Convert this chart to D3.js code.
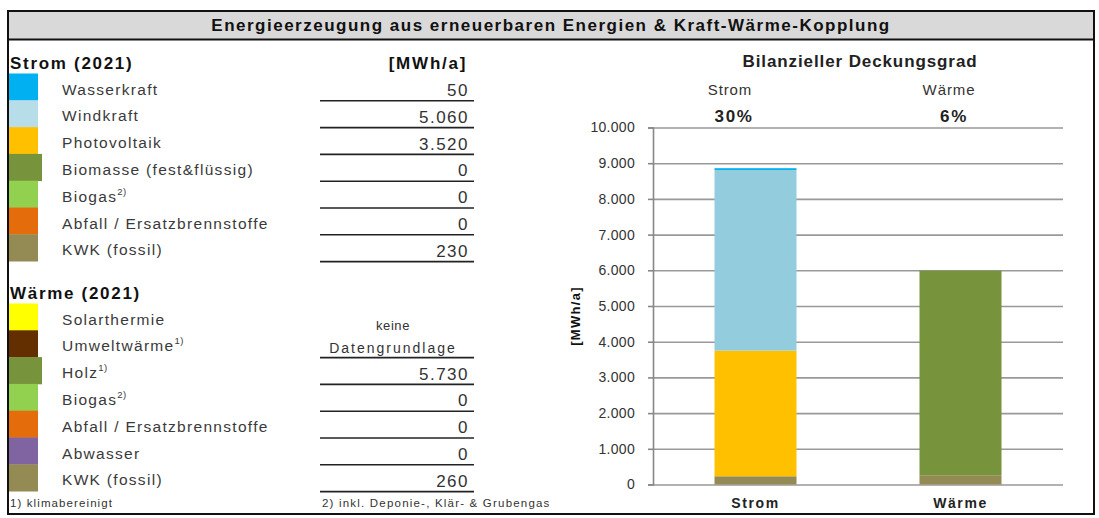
<!DOCTYPE html>
<html>
<head>
<meta charset="utf-8">
<script src="https://cdn.jsdelivr.net/npm/d3@7"></script>
<style>
  body { margin: 0; background: #fff; }
  text { font-family: "Liberation Sans", Arial, sans-serif; }
</style>
</head>
<body>
<div id="chart"></div>
<script>
// Strom (2021)
const stromLabels = ['Wasserkraft', 'Windkraft', 'Photovoltaik', 'Biomasse (fest&flüssig)', 'Biogas', 'Abfall / Ersatzbrennstoffe', 'KWK (fossil)']
const stromNotes = ['', '', '', '', '2)', '', '']
const stromValues = [50, 5060, 3520, 0, 0, 0, 230]
const stromColors = ['#00b0f0', '#93cddd', '#ffc000', '#77933c', '#92d050', '#e46c0a', '#948a54']

// Wärme (2021)
const waermeLabels = ['Solarthermie', 'Umweltwärme', 'Holz', 'Biogas', 'Abfall / Ersatzbrennstoffe', 'Abwasser', 'KWK (fossil)']
const waermeNotes = ['', '1)', '1)', '2)', '', '', '']
const waermeValues = [null, null, 5730, 0, 0, 0, 260]
const waermeColors = ['#ffff00', '#632f00', '#77933c', '#92d050', '#e46c0a', '#8064a2', '#948a54']

const categories = ['Strom', 'Wärme']
const coverage = ['30%', '6%']
const yTicks = [0, 1000, 2000, 3000, 4000, 5000, 6000, 7000, 8000, 9000, 10000]

// legend swatch is drawn lighter than the bar for Windkraft
const swatchOverride = {Windkraft: '#b7dee8'}

const W = 1099
const H = 518
const de = d3.formatLocale({decimal: ',', thousands: '.', grouping: [3], currency: ['', '€']})
const fmt = de.format(',d')

const svg = d3.select('#chart').append('svg')
  .attr('width', W)
  .attr('height', H)

// outer frame + title bar
svg.append('rect')
  .attr('x', 8).attr('y', 11).attr('width', 1086).attr('height', 503)
  .attr('fill', '#fff').attr('stroke', '#111').attr('stroke-width', 2)
svg.append('rect')
  .attr('x', 8).attr('y', 11).attr('width', 1086).attr('height', 28.5)
  .attr('fill', '#d9d9d9').attr('stroke', '#111').attr('stroke-width', 2)
svg.append('text')
  .attr('x', 551).attr('y', 31)
  .attr('text-anchor', 'middle')
  .attr('font-size', 17).attr('font-weight', 'bold').attr('fill', '#111')
  .attr('letter-spacing', 1.5)
  .text('Energieerzeugung aus erneuerbaren Energien & Kraft-Wärme-Kopplung')

// ---------- left table ----------
const rowH = 26.8
const valRight = 469
const lineX0 = 320
const lineX1 = 474

function drawSection(title, top, labels, notes, values, colors, withUnit) {
  svg.append('text')
    .attr('x', 10).attr('y', top - 5)
    .attr('font-size', 17).attr('font-weight', 'bold').attr('fill', '#111')
    .attr('letter-spacing', 1.7)
    .text(title)
  if (withUnit) {
    svg.append('text')
      .attr('x', 428).attr('y', top - 5)
      .attr('text-anchor', 'middle')
      .attr('font-size', 17).attr('font-weight', 'bold').attr('fill', '#111')
      .attr('letter-spacing', 1.8)
      .text('[MWh/a]')
  }
  const rows = svg.append('g').selectAll('g')
    .data(labels.map((l, i) => ({label: l, note: notes[i], value: values[i], color: colors[i], i})))
    .join('g')
    .attr('transform', d => `translate(0, ${top + d.i * rowH})`)

  rows.append('rect')
    .attr('x', 9).attr('y', 0)
    .attr('width', d => d.color === '#77933c' ? 33 : 29)
    .attr('height', rowH + 0.4)
    .attr('fill', d => swatchOverride[d.label] || d.color)

  const lbl = rows.append('text')
    .attr('x', 62).attr('y', 21)
    .attr('font-size', 15.5).attr('fill', '#3a3a3a')
    .attr('letter-spacing', 1.3)
  lbl.append('tspan').text(d => d.label)
  lbl.append('tspan')
    .attr('font-size', 9.5).attr('dy', -7).attr('dx', 0)
    .attr('letter-spacing', 0.5)
    .text(d => d.note)

  rows.filter(d => d.value !== null)
    .append('text')
    .attr('x', valRight).attr('y', 22.5)
    .attr('text-anchor', 'end')
    .attr('font-size', 17).attr('fill', '#333')
    .attr('letter-spacing', 1.5)
    .text(d => fmt(d.value))

  rows.filter(d => d.value !== null || d.i === 1)
    .append('line')
    .attr('x1', lineX0).attr('x2', lineX1)
    .attr('y1', rowH + 0.5).attr('y2', rowH + 0.5)
    .attr('stroke', '#222').attr('stroke-width', 1.6)
}

drawSection('Strom (2021)', 73.5, stromLabels, stromNotes, stromValues, stromColors, true)
drawSection('Wärme (2021)', 303.5, waermeLabels, waermeNotes, waermeValues, waermeColors, false)

svg.append('text')
  .attr('x', 393).attr('y', 330)
  .attr('text-anchor', 'middle').attr('font-size', 13).attr('fill', '#333')
  .attr('letter-spacing', 0.6)
  .text('keine')
svg.append('text')
  .attr('x', 393).attr('y', 353)
  .attr('text-anchor', 'middle').attr('font-size', 14).attr('fill', '#333')
  .attr('letter-spacing', 2)
  .text('Datengrundlage')

svg.append('text')
  .attr('x', 10).attr('y', 507)
  .attr('font-size', 11.5).attr('fill', '#333')
  .attr('letter-spacing', 1.1)
  .text('1) klimabereinigt')
svg.append('text')
  .attr('x', 322).attr('y', 507)
  .attr('font-size', 11.5).attr('fill', '#333')
  .attr('letter-spacing', 1.2)
  .text('2) inkl. Deponie-, Klär- & Grubengas')

// ---------- chart ----------
const plot = {left: 653, right: 1063, top: 127.5, bottom: 484.5}

const x = d3.scaleBand()
  .domain(categories)
  .range([plot.left, plot.right])
  .paddingInner(0.6)
  .paddingOuter(0.3)

const y = d3.scaleLinear()
  .domain([0, 10000])
  .range([plot.bottom, plot.top])

// gridlines
svg.append('g')
  .attr('transform', `translate(${plot.left}, 0)`)
  .call(d3.axisRight(y).tickValues(yTicks).tickSize(plot.right - plot.left).tickFormat(''))
  .call(g => g.select('.domain').remove())
  .call(g => g.selectAll('line').attr('stroke', '#999').attr('stroke-width', 1.6))

// y axis
svg.append('g')
  .attr('transform', `translate(${plot.left}, 0)`)
  .call(d3.axisLeft(y).tickValues(yTicks).tickSize(5).tickPadding(13).tickFormat(fmt))
  .call(g => g.select('.domain').attr('stroke', '#888').attr('stroke-width', 1.6))
  .call(g => g.selectAll('line').attr('stroke', '#888').attr('stroke-width', 1.6))
  .call(g => g.selectAll('text')
    .attr('font-family', '"Liberation Sans", Arial, sans-serif')
    .attr('font-size', 14).attr('fill', '#333')
    .attr('letter-spacing', 0.3))

// stacked segments, bottom = last item of each list
function segments(values, colors, cat) {
  const order = values.map((v, i) => i).reverse()
  const vals = order.map(i => values[i] || 0)
  const cum = d3.cumsum(vals)
  return order.map((idx, k) => ({
    cat, color: colors[idx], y0: cum[k] - vals[k], y1: cum[k],
  })).filter(d => d.y1 > d.y0)
}

const segs = [
  ...segments(stromValues, stromColors, 'Strom'),
  ...segments(waermeValues, waermeColors, 'Wärme'),
]

svg.append('g').selectAll('rect')
  .data(segs)
  .join('rect')
  .attr('x', d => x(d.cat))
  .attr('width', x.bandwidth())
  .attr('y', d => y(d.y1))
  .attr('height', d => y(d.y0) - y(d.y1))
  .attr('fill', d => d.color)

// x axis labels
svg.append('g')
  .attr('transform', `translate(0, ${plot.bottom})`)
  .call(d3.axisBottom(x).tickSize(0).tickPadding(14))
  .call(g => g.select('.domain').remove())
  .call(g => g.selectAll('text')
    .attr('font-family', '"Liberation Sans", Arial, sans-serif')
    .attr('font-size', 14).attr('font-weight', 'bold').attr('fill', '#222')
    .attr('letter-spacing', 1.6))

// y axis title
svg.append('text')
  .attr('transform', `translate(580, 316) rotate(-90)`)
  .attr('text-anchor', 'middle')
  .attr('font-size', 13).attr('font-weight', 'bold').attr('fill', '#111')
  .attr('letter-spacing', 1.3)
  .text('[MWh/a]')

// chart title + coverage
svg.append('text')
  .attr('x', 860).attr('y', 67)
  .attr('text-anchor', 'middle')
  .attr('font-size', 17).attr('font-weight', 'bold').attr('fill', '#222')
  .attr('letter-spacing', 0.9)
  .text('Bilanzieller Deckungsgrad')

const headX = [730, 949]
const pctX = [734, 954]
categories.forEach((c, i) => {
  svg.append('text')
    .attr('x', headX[i]).attr('y', 95)
    .attr('text-anchor', 'middle')
    .attr('font-size', 15).attr('fill', '#333')
    .attr('letter-spacing', 0.9)
    .text(c)
  svg.append('text')
    .attr('x', pctX[i]).attr('y', 122)
    .attr('text-anchor', 'middle')
    .attr('font-size', 17).attr('font-weight', 'bold').attr('fill', '#222')
    .attr('letter-spacing', 1.6)
    .text(coverage[i])
})
</script>
</body>
</html>
